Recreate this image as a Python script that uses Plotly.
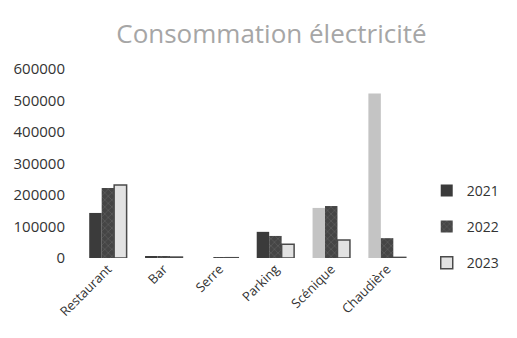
import plotly.graph_objects as go

# Annual electricity consumption per site
categories = ["Restaurant", "Bar", "Serre", "Parking", "Scénique", "Chaudière"]
conso_2021 = [143000, 5000, 0, 83000, 159000, 522000]
conso_2022 = [222000, 6000, 3000, 70000, 165000, 63000]
conso_2023 = [232000, 3000, 1000, 44000, 57000, 2000]
y_ticks = [0, 100000, 200000, 300000, 400000, 500000, 600000]

DARK = "#3b3b3b"
LIGHT = "#c4c4c4"
colors_2021 = [DARK, DARK, DARK, DARK, LIGHT, LIGHT]

fig = go.Figure()
fig.add_bar(
    name="2021", x=categories, y=conso_2021, legendgroup="a",
    marker=dict(color=colors_2021, line=dict(width=0)),
)
fig.add_bar(
    name="2022", x=categories, y=conso_2022, legendgroup="b",
    marker=dict(
        color="#454545", line=dict(width=0),
        pattern=dict(shape="x", fgcolor="#9a9a9a", size=5, solidity=0.15),
    ),
)
fig.add_bar(
    name="2023", x=categories, y=conso_2023, legendgroup="c",
    marker=dict(color="#e2e2e2", line=dict(color="#4a4a4a", width=1.5)),
)

fig.update_layout(
    width=517, height=338,
    margin=dict(l=80, r=77, t=69, b=80),
    paper_bgcolor="white", plot_bgcolor="white",
    barmode="group", bargap=0.33, bargroupgap=0,
    font=dict(family="Open Sans", color="#333333"),
    title=dict(
        text="Consommation électricité",
        x=0.525, xanchor="center", y=0.9, yanchor="middle",
        font=dict(family="Open Sans", size=26, color="#a6a6a6"),
    ),
    legend=dict(
        x=1.035, xanchor="left", y=0.165, yanchor="middle",
        font=dict(size=14, color="#333333"),
        tracegroupgap=15, itemwidth=30,
        bgcolor="rgba(0,0,0,0)",
    ),
    showlegend=True,
)
fig.update_xaxes(
    showgrid=False, showline=False, zeroline=False,
    tickangle=-45, tickfont=dict(size=13, color="#333333"),
)
fig.update_yaxes(
    range=[0, 600000], tickvals=y_ticks, ticktext=[str(v) for v in y_ticks],
    showgrid=False, showline=False, zeroline=False,
    tickfont=dict(size=15, color="#333333"), ticklabelstandoff=14,
)

fig.write_html("out.html")
